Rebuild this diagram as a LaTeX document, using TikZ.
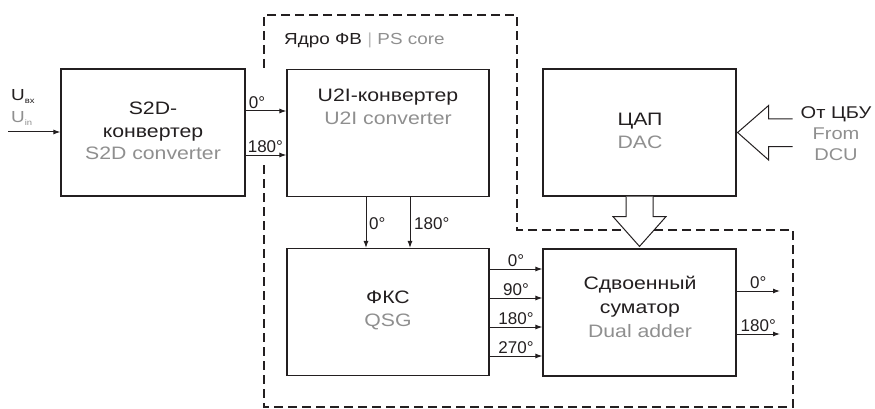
\documentclass[tikz,border=0pt]{standalone}
\usepackage{fontspec}
\setmainfont{Liberation Sans}
\newfontfamily\widefont[FakeStretch=1.18]{Liberation Sans}
\usetikzlibrary{arrows.meta,calc}
\definecolor{ink}{HTML}{231F20}
\definecolor{gr}{HTML}{8F8F8F}
\begin{document}
\begin{tikzpicture}[x=1pt,y=-1pt,
  box/.style={draw=ink,line width=1.2pt,minimum width=#1,minimum height=127pt,inner sep=0pt},
  txt/.style={text=ink,align=center,inner sep=0pt,font=\widefont\fontsize{18}{22.5}\selectfont},
  deg/.style={text=ink,inner sep=1pt,font=\fontsize{17}{17}\selectfont},
  arr/.style={draw=ink,line width=1pt,-{Latex[length=7pt,width=5pt]}},
  big/.style={draw=ink,line width=1pt,fill=white,line join=miter},
  bound/.style={draw=ink,line width=1.2pt,dash pattern=on 9pt off 5pt}]
\useasboundingbox (0,0) rectangle (875,409);
% boundary of the core
\draw[bound] (264,165) -- (264,407) -- (793,407) -- (793,230) -- (517,230) -- (517,15) -- (264,15) -- (264,68);
% boxes
\node[box=184pt] (s2d) at (153,132.5) {};
\node[box=202pt] (u2i) at (388,133) {};
\node[box=193pt] (dac) at (639.5,132.5) {};
\node[box=202pt] (qsg) at (388,312) {};
\node[box=193pt] (add) at (639.5,312.5) {};
% texts
\node[txt] (s2dt) at (153,131) {S2D-\\конвертер\\{\color{gr}S2D converter}};
\node[txt] (u2it) at (388,107) {U2I-конвертер\\{\color{gr}U2I converter}};
\node[txt] (dact) at (640,131) {ЦАП\\{\color{gr}DAC}};
\node[txt] (qsgt) at (388,310.5) {ФКС\\{\color{gr}QSG}};
\node[txt,font=\widefont\fontsize{18}{24}\selectfont] (addt) at (640,307) {Сдвоенный\\суматор\\{\color{gr}Dual adder}};
\node[txt,font=\widefont\fontsize{17}{21}\selectfont] (dcu) at (836,134) {От ЦБУ\\{\color{gr}From}\\{\color{gr}DCU}};
\node[txt,anchor=west,font=\widefont\fontsize{16}{20}\selectfont] (core) at (284,40) {Ядро ФВ {\color{gr!60}|} {\color{gr}PS core}};
\node[txt,anchor=west,align=left,font=\widefont\fontsize{16}{22}\selectfont] (uin) at (11,107)
  {U\raisebox{-3pt}{\fontsize{8}{8}\selectfont вх}\\{\color{gr}U\raisebox{-3pt}{\fontsize{8}{8}\selectfont in}}};
% input
\coordinate (inS) at (8,132);
\draw[arr] (inS) -- (inS -| s2d.west);
% S2D -> U2I
\coordinate (y1) at (0,111);
\coordinate (y2) at (0,155);
\draw[arr] (s2d.east |- y1) -- (u2i.west |- y1);
\draw[arr] (s2d.east |- y2) -- (u2i.west |- y2);
\node[deg,anchor=south west] (l1) at ($(s2d.east |- y1)+(2,-1)$) {0°};
\node[deg,anchor=south west] (l2) at ($(s2d.east |- y2)+(1,-1)$) {180°};
% U2I -> QSG
\coordinate (x1) at (366,0);
\coordinate (x2) at (410,0);
\draw[arr] (x1 |- u2i.south) -- (x1 |- qsg.north);
\draw[arr] (x2 |- u2i.south) -- (x2 |- qsg.north);
\node[deg,anchor=west] (l3) at (368,224) {0°};
\node[deg,anchor=west] (l4) at (413,224) {180°};
% QSG -> adder
\foreach \yy/\lab [count=\i] in {269/0°,298/90°,327/180°,356/270°}{
  \coordinate (q\i) at (0,\yy);
  \draw[arr] (qsg.east |- q\i) -- node[deg,above,yshift=1pt] (lq\i) {\lab} (add.west |- q\i);
}
% adder outputs
\coordinate (o1) at (0,291);
\coordinate (o2) at (0,334);
\coordinate (oe) at (780,0);
\draw[arr] (add.east |- o1) -- node[deg,above,yshift=1pt] (lo1) {0°} (oe |- o1);
\draw[arr] (add.east |- o2) -- node[deg,above,yshift=1pt] (lo2) {180°} (oe |- o2);
% big arrow DAC -> adder
\draw[big] ($(dac.south)+(-13.5,0)$) -- ++(0,20) -- ++(-13,0) -- ($(add.north)+(0,-2)$)
  -- ($(dac.south)+(26.5,20)$) -- ++(-13,0) -- ($(dac.south)+(13.5,0)$);
% big arrow DCU -> DAC
\draw[big] ($(dac.east)+(56,-13.5)$) -- ++(-24,0) -- ++(0,-13.5) -- ($(dac.east)+(1,0)$)
  -- ($(dac.east)+(32,27.5)$) -- ++(0,-13.5) -- ++(24,0);
\end{tikzpicture}
\end{document}
